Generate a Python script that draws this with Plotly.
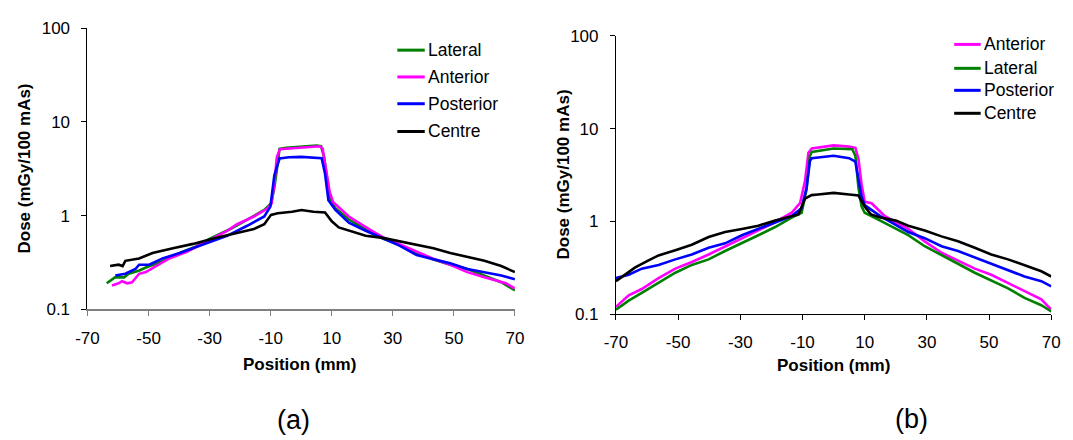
import plotly.graph_objects as go

# ---- Panel (a) profiles: position (mm) vs dose (mGy/100 mAs) ----
a_lat_x = [-63.7, -61, -58, -56.5, -53, -50.9, -45, -39.8, -35, -29.9, -23.2, -17.7, -12.1, -9.9, -8.9, -8.2,
           -7.1, -5, 0, 3, 5, 6.5, 7.5, 8.4, 9.5, 11.2, 15.6, 21.1, 26.7, 30, 37.8, 43.3, 48.8, 54.4, 60, 65.5, 70]
a_lat_y = [0.19, 0.22, 0.22, 0.24, 0.26, 0.28, 0.33, 0.40, 0.46, 0.57, 0.72, 0.91, 1.15, 1.35, 1.9, 2.74,
           5.15, 5.3, 5.45, 5.55, 5.6, 5.5, 4.2, 2.6, 1.46, 1.2, 0.91, 0.72, 0.57, 0.52, 0.40, 0.34, 0.30, 0.27,
           0.23, 0.195, 0.16]

a_ant_x = [-62, -59.8, -58.7, -57, -55.4, -53.1, -50.9, -47.6, -43.2, -37.6, -29.9, -24.3, -21, -15.5, -11,
           -9.7, -8.8, -8, -7, -3, 0, 3, 6, 7, 8.2, 9.3, 10.4, 12.5, 15.6, 22.2, 26.7, 32, 37.8, 43, 48.8,
           54.4, 60, 64.4, 67, 70]
a_ant_y = [0.18, 0.19, 0.2, 0.19, 0.195, 0.24, 0.25, 0.29, 0.35, 0.41, 0.55, 0.69, 0.81, 0.98, 1.2,
           1.35, 2.2, 4.2, 5.1, 5.2, 5.3, 5.4, 5.5, 5.2, 3.0, 1.8, 1.4, 1.2, 0.98, 0.72, 0.59, 0.50, 0.41, 0.35,
           0.30, 0.25, 0.22, 0.20, 0.19, 0.167]

a_post_x = [-60.9, -57.6, -54.3, -53.1, -49.8, -45.4, -39.8, -29.9, -24.3, -17.7, -12.1, -10.1, -8.8, -7.1,
            -4, 0, 3, 6.7, 7.8, 8.9, 11.2, 15.6, 21.1, 26.7, 32.2, 37.8, 41, 43.3, 48.8, 54.4, 60, 65.5, 70]
a_post_y = [0.23, 0.24, 0.27, 0.30, 0.30, 0.35, 0.40, 0.52, 0.61, 0.78, 0.98, 1.25, 2.7, 4.07,
            4.2, 4.24, 4.2, 4.1, 2.8, 1.46, 1.15, 0.84, 0.69, 0.58, 0.48, 0.38, 0.36, 0.34, 0.31, 0.27, 0.25,
            0.23, 0.21]

a_cen_x = [-62.6, -59.8, -58.5, -57.6, -53.1, -48.7, -42, -35.4, -28.8, -22.1, -15.5, -12.1, -9.9, -7.7,
           -3, 0.1, 4, 7.8, 10, 12.3, 15.6, 21.1, 26.7, 32.2, 37.8, 43.3, 48.8, 54.4, 60, 65.5, 70]
a_cen_y = [0.29, 0.30, 0.29, 0.33, 0.35, 0.40, 0.45, 0.50, 0.57, 0.64, 0.72, 0.81, 1.02, 1.06,
           1.1, 1.15, 1.1, 1.08, 0.87, 0.75, 0.69, 0.61, 0.58, 0.53, 0.49, 0.45, 0.40, 0.36, 0.33, 0.29, 0.25]

# ---- Panel (b) profiles ----
b_ant_x = [-70, -65.9, -61.7, -56.3, -50.9, -45.6, -40.2, -34.9, -29.5, -24.2, -18.8, -13.5, -10.8, -9.2,
           -8.1, -7, 0, 5, 7, 8, 9, 10, 12.2, 16.5, 24, 29.3, 34.7, 40, 45.4, 50.7, 56.1, 61.4, 66.8, 70]
b_ant_y = [0.12, 0.16, 0.187, 0.245, 0.31, 0.365, 0.44, 0.54, 0.66, 0.80, 0.98, 1.24, 1.57, 2.72,
           5.5, 6.1, 6.6, 6.4, 6.2, 4.7, 2.5, 1.63, 1.57, 1.14, 0.83, 0.61, 0.46, 0.38, 0.31, 0.266, 0.218,
           0.179, 0.145, 0.112]

b_lat_x = [-70, -65.9, -61.7, -56.3, -50.9, -45.6, -40.2, -34.9, -29.5, -24.2, -18.8, -13.5, -10.3, -8.7,
           -7.6, -7, 0, 6, 7, 8, 9, 10, 15, 24, 29.3, 34.7, 40, 45.4, 50.7, 56.1, 61.4, 66.8, 70]
b_lat_y = [0.112, 0.14, 0.17, 0.22, 0.28, 0.34, 0.39, 0.48, 0.58, 0.71, 0.87, 1.10, 1.24, 2.2,
           5.1, 5.6, 6.1, 6.0, 5.1, 2.3, 1.45, 1.24, 1.02, 0.71, 0.54, 0.43, 0.35, 0.28, 0.23, 0.19, 0.15,
           0.125, 0.107]

b_post_x = [-70, -65.9, -61.7, -56.3, -50.9, -45.6, -40.2, -34.9, -29.5, -24.2, -18.8, -13.5, -10.3, -8.7,
            -7.6, -7, 0, 5, 7, 8, 9, 10, 15, 19, 24, 29.3, 34.7, 40, 45.4, 50.7, 56.1, 61.4, 66.8, 70]
b_post_y = [0.245, 0.266, 0.31, 0.34, 0.39, 0.44, 0.52, 0.58, 0.71, 0.83, 0.98, 1.14, 1.39, 2.3,
            4.5, 4.8, 5.1, 4.8, 4.4, 2.95, 1.84, 1.5, 1.14, 0.96, 0.77, 0.66, 0.54, 0.48, 0.41, 0.35, 0.30,
            0.255, 0.227, 0.20]

b_cen_x = [-70, -63.8, -59.5, -56.3, -50.9, -45.6, -40.2, -34.9, -29.5, -24.2, -18.8, -13.5, -11.3, -9.2,
           -7.1, -5, 0, 5, 8, 10, 12, 15, 20, 24, 29.3, 34.7, 40, 45.4, 50.7, 56.1, 61.4, 66.8, 70]
b_cen_y = [0.227, 0.32, 0.38, 0.43, 0.49, 0.56, 0.68, 0.77, 0.83, 0.90, 1.02, 1.14, 1.19, 1.76,
           1.92, 1.95, 2.03, 1.95, 1.9, 1.45, 1.19, 1.10, 1.02, 0.90, 0.80, 0.69, 0.61, 0.52, 0.44, 0.39,
           0.34, 0.29, 0.255]

x_ticks = [-70, -50, -30, -10, 10, 30, 50, 70]
x_tick_text = ["-70", "-50", "-30", "-10", "10", "30", "50", "70"]
y_ticks = [0.1, 1, 10, 100]
y_tick_text = ["0.1", "1", "10", "100"]

GREEN, MAGENTA, BLUE, BLACK = "#008000", "#FF00FF", "#0000FF", "#000000"
FONT = "Liberation Sans, Arial, sans-serif"

panel_a = [("Lateral", a_lat_x, a_lat_y, GREEN), ("Anterior", a_ant_x, a_ant_y, MAGENTA),
           ("Posterior", a_post_x, a_post_y, BLUE), ("Centre", a_cen_x, a_cen_y, BLACK)]
panel_b = [("Anterior", b_ant_x, b_ant_y, MAGENTA), ("Lateral", b_lat_x, b_lat_y, GREEN),
           ("Posterior", b_post_x, b_post_y, BLUE), ("Centre", b_cen_x, b_cen_y, BLACK)]

W, H = 1073, 440
fig = go.Figure()

for name, xs, ys, col in panel_a:
    fig.add_trace(go.Scatter(x=xs, y=ys, mode="lines", name=name, showlegend=False,
                             line=dict(color=col, width=2.6), xaxis="x", yaxis="y"))
for name, xs, ys, col in panel_b:
    fig.add_trace(go.Scatter(x=xs, y=ys, mode="lines", name=name, showlegend=False,
                             line=dict(color=col, width=2.6), xaxis="x2", yaxis="y2"))


def xaxis(domain, anchor, axcol, axw):
    return dict(domain=domain, anchor=anchor, range=[-70, 70], tickvals=x_ticks, ticktext=x_tick_text,
                ticks="outside", ticklen=5, tickcolor=axcol, tickwidth=1, showline=True, linecolor=axcol,
                linewidth=axw, showgrid=False, zeroline=False,
                tickfont=dict(family=FONT, size=17, color="black"), ticklabelstandoff=7)


def yaxis(domain, anchor):
    return dict(domain=domain, anchor=anchor, type="log", range=[-1, 2], tickvals=y_ticks,
                ticktext=y_tick_text, ticks="outside", ticklen=5, tickcolor="black", showline=True,
                linecolor="black", linewidth=1, showgrid=False, zeroline=False,
                tickfont=dict(family=FONT, size=17, color="black"), ticklabelstandoff=8)


ax_a = (77, 513, 20, 314)
ax_b = (616, 1060, 28, 319)

fig.update_layout(
    width=W, height=H, margin=dict(l=0, r=0, t=0, b=0),
    paper_bgcolor="white", plot_bgcolor="white", showlegend=False,
    xaxis=xaxis([ax_a[0] / W, ax_a[1] / W], "y", "#808080", 2),
    yaxis=yaxis([1 - ax_a[3] / H, 1 - ax_a[2] / H], "x"),
    xaxis2=xaxis([ax_b[0] / W, ax_b[1] / W], "y2", "black", 1),
    yaxis2=yaxis([1 - ax_b[3] / H, 1 - ax_b[2] / H], "x2"),
)

annotations = []
shapes = []


def text(x, y, s, size, bold=False, angle=0, xanchor="center"):
    annotations.append(dict(x=x / W, y=1 - y / H, xref="paper", yref="paper", text=f"<b>{s}</b>" if bold else s,
                            showarrow=False, textangle=angle, xanchor=xanchor, yanchor="middle",
                            font=dict(family=FONT, size=size, color="black")))


# axis titles
text(293, 372, "Position (mm)", 17, bold=True)
text(838, 373, "Position (mm)", 17, bold=True)
text(13, 167, "Dose (mGy/100 mAs)", 17, bold=True, angle=-90)
text(563, 173, "Dose (mGy/100 mAs)", 17, bold=True, angle=-90)

# panel letters
text(287, 430, "(a)", 27)
text(917, 429, "(b)", 27)

# legend keys
legend_a = dict(x0=393, x1=421, tx=422, ys=[43, 71, 99, 128])
legend_b = dict(x0=961, x1=988, tx=989, ys=[37, 62, 85, 109])
for (name, _, _, col), yy in zip(panel_a, legend_a["ys"]):
    shapes.append(dict(type="line", xref="paper", yref="paper", x0=legend_a["x0"] / W, x1=legend_a["x1"] / W,
                       y0=1 - yy / H, y1=1 - yy / H, line=dict(color=col, width=3)))
    text(legend_a["tx"], yy, name, 17.5, xanchor="left")
for (name, _, _, col), yy in zip(panel_b, legend_b["ys"]):
    shapes.append(dict(type="line", xref="paper", yref="paper", x0=legend_b["x0"] / W, x1=legend_b["x1"] / W,
                       y0=1 - yy / H, y1=1 - yy / H, line=dict(color=col, width=3)))
    text(legend_b["tx"], yy, name, 17.5, xanchor="left")

fig.update_layout(annotations=annotations, shapes=shapes)
fig.write_html("out.html")
